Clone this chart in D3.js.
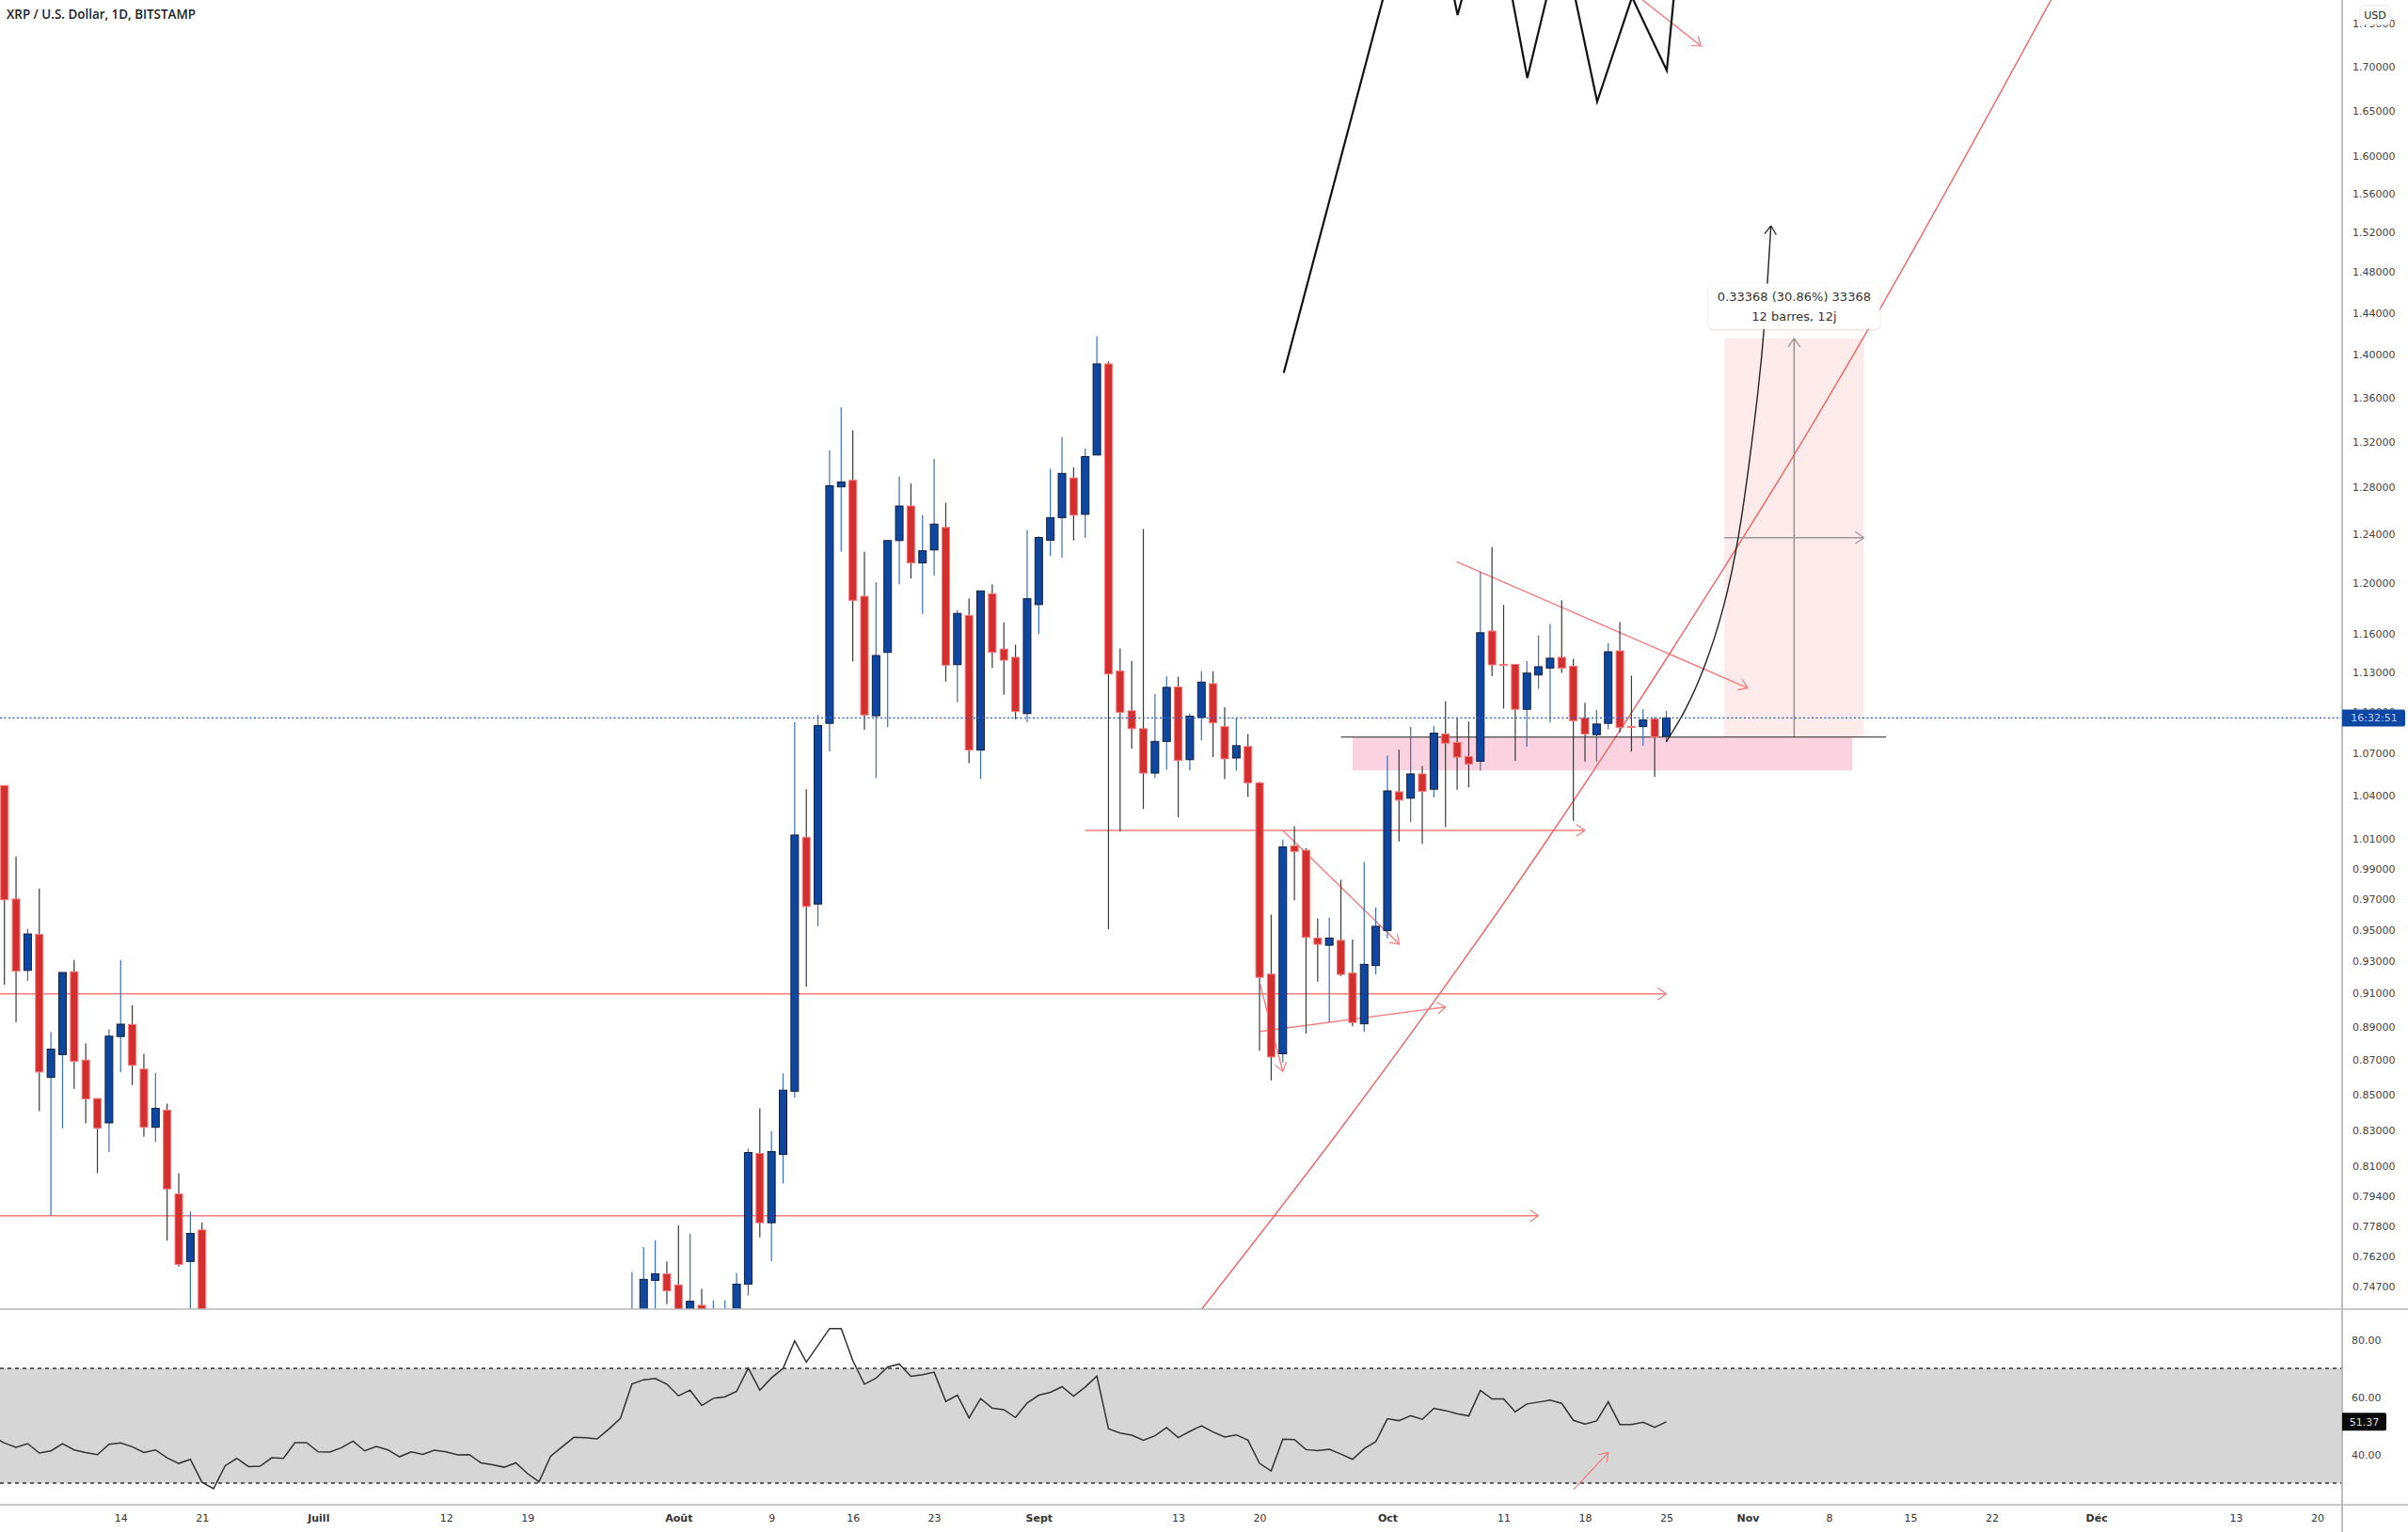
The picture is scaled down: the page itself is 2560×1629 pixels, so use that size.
<!DOCTYPE html>
<html><head><meta charset="utf-8">
<script src="https://cdn.jsdelivr.net/npm/d3@7/dist/d3.min.js"></script>
<style>html,body{margin:0;padding:0;background:#fff}svg{display:block}text{font-family:"DejaVu Sans",sans-serif}</style>
</head><body><svg id="c" width="2560" height="1629"></svg>
<script>
// ---------- DATA ----------
const title = "XRP / U.S. Dollar, 1D, BITSTAMP";
const opens = [1.047,.9699,.9243,.9470,.8600,.8733,.9235,.8701,.8478,.8340,.8840,.8912,.8648,.8315,.8412,.7950,.7596,.7759,
 .72,.72,.7500,.7533,.7477,.72,.7375,.72,.72,.72,.7481,.8170,.7797,.8165,.8520,1.0111,.9666,1.0918,1.2805,1.2862,1.1895,1.0974,1.1453,1.2350,1.2641,1.2165,1.2272,1.2460,1.1359,1.1741,1.0723,1.1915,1.1479,1.1415,1.0990,
 1.1828,1.2353,1.2542,1.2883,1.2570,1.3083,1.3912,1.1311,1.1011,1.0879,1.0558,1.0786,1.1189,1.0654,1.0962,1.1214,1.0894,1.0666,1.0749,1.0489,.9220,.8738,1.0053,1.0023,.9447,.9401,.9432,.9226,.8916,.9273,
 .9495,1.0426,1.0381,1.0552,1.0444,1.0840,1.0779,1.0677,1.0643,1.1619,1.1361,1.1361,1.1022,1.1280,1.1333,1.1415,1.1347,1.0958,1.0835,1.0918,1.1465,1.0895,1.0894,1.0951,1.0824];
const highs = [1.047,.9980,.9506,.9768,.8868,.9230,.9308,.8799,.8478,.8883,.9308,.9028,.8736,.8626,.8449,.8062,.7856,.7799,
 .7543,.7672,.7706,.7596,.7783,.7740,.7457,.7399,.7399,.7538,.8196,.8422,.8293,.8623,1.0926,1.0444,1.0981,1.3125,1.3511,1.3303,1.2257,1.2008,1.2350,1.2897,1.2834,1.2563,1.3049,1.2667,1.1785,1.1878,1.1938,1.1991,1.1688,1.1512,1.2439,
 1.2385,1.2962,1.3243,1.2977,1.3140,1.4174,1.3936,1.1483,1.1387,1.2446,1.1136,1.1271,1.1266,1.0992,1.1311,1.1308,1.1037,1.0959,1.0840,1.0495,.9597,1.0095,1.0186,1.0037,.9572,.9579,.9825,.9437,.9945,.9643,
 1.0683,1.0725,1.0892,1.0609,1.0897,1.1083,1.0959,1.0931,1.2094,1.2296,1.1826,1.1361,1.1385,1.1585,1.1675,1.1863,1.1403,1.1070,1.1016,1.1525,1.1689,1.1275,1.1024,1.0965,1.1011];
const lows = [.9154,.8925,.9178,.8406,.7836,.8308,.8534,.8337,.8062,.8178,.8631,.8555,.8262,.8233,.7703,.7570,.72,.72,
 .71,.71,.72,.7380,.72,.71,.72,.71,.71,.71,.7424,.7720,.7596,.8006,.8482,.9142,.9523,1.0711,1.2257,1.1383,1.0871,1.0523,1.0889,1.1991,1.2038,1.1755,1.2061,1.1230,1.1074,1.0628,1.0517,1.1334,1.1130,1.0949,1.0926,
 1.1595,1.2222,1.2208,1.2350,1.2371,1.3083,.9504,1.0149,1.0733,1.0306,1.0523,1.0582,1.0249,1.0577,1.0794,1.0672,1.0515,1.0575,1.0389,.8756,.8582,.8686,.9691,.8858,.9173,.8926,.9208,.8901,.8869,.9218,
 .9445,1.0082,1.0215,1.0067,1.0386,1.0180,1.0440,1.0458,1.0577,1.1271,1.1028,1.0646,1.0747,1.1175,1.0924,1.1296,1.0224,1.0641,1.0641,1.0876,1.0852,1.0712,1.0754,1.0531,1.0782];
const closes = [.9694,.9238,.9473,.8631,.8765,.9230,.8694,.8476,.8310,.8842,.8914,.8670,.8315,.8422,.7977,.7581,.7741,.73,
 .725,.7505,.7533,.7447,.73,.7395,.73,.725,.725,.7481,.8175,.7797,.8180,.8526,1.0126,.9650,1.0902,1.2815,1.2847,1.1862,1.0980,1.1429,1.2350,1.2641,1.2165,1.2265,1.2488,1.1355,1.1758,1.0723,1.1938,1.1453,1.1393,1.1005,1.1875,
 1.2375,1.2542,1.2922,1.2563,1.3069,1.3912,1.1287,1.0999,1.0879,1.0558,1.0786,1.1186,1.0649,1.0971,1.1226,1.0922,1.0660,1.0755,1.0489,.9200,.8719,1.0045,1.0015,.9451,.9407,.9447,.9218,.8924,.9281,.9522,
 1.0432,1.0367,1.0552,1.0429,1.0846,1.0773,1.0672,1.0623,1.1606,1.1357,1.1357,1.1022,1.1294,1.1343,1.1408,1.1333,1.0938,1.0840,1.0913,1.1458,1.0889,1.0889,1.0944,1.0819,1.0958];
const rsiValues = [46.18,43.98,42.45,43.76,40.47,41.24,43.76,41.57,40.69,39.92,43.54,43.98,42.67,40.69,41.57,38.83,36.86,38.28,30.28,28.08,36.09,38.61,35.76,35.87,38.83,38.61,44.09,44.09,
 40.91,40.80,42.34,44.64,41.24,42.78,41.57,39.16,40.91,40.03,41.46,40.91,39.81,39.92,37.07,36.42,35.54,37.07,33.35,30.49,39.38,42.67,45.96,45.85,45.41,48.81,52.53,64.60,66.02,66.46,64.49,
 60.43,62.40,57.03,59.55,60.10,61.96,70.08,62.40,66.68,69.97,79.62,72.16,77.97,83.89,83.89,72.71,64.49,66.57,70.52,71.50,67.23,67.78,68.65,58.46,60.65,52.75,59.44,56.15,55.60,52.86,57.91,
 60.65,61.64,63.61,60.32,63.50,67.34,48.92,47.49,46.72,44.97,46.50,49.35,45.85,48.04,50.01,47.82,46.07,46.83,44.97,36.86,34.22,45.30,45.19,41.68,41.35,41.79,40.14,38.28,42.01,44.42,
 52.43,51.77,53.52,52.21,56.04,55.28,54.18,53.41,62.29,59.33,59.33,54.84,57.58,58.24,58.90,57.80,51.88,50.56,51.66,58.35,50.45,50.45,51.22,49.46,51.37];
const priceTicks = [1.75,1.70,1.65,1.60,1.56,1.52,1.48,1.44,1.40,1.36,1.32,1.28,1.24,1.20,1.16,1.13,1.10,1.07,1.04,1.01,.99,.97,.95,.93,.91,.89,.87,.85,.83,.81,.794,.778,.762,.747];
const rsiTicks = [80,60,40];
const timeTickDates = ["06-14","06-21","07-01","07-12","07-19","08-01","08-09","08-16","08-23","09-01","09-13","09-20","10-01","10-11","10-18","10-25","11-01","11-08","11-15","11-22","12-01","12-13","12-20"];
const timeTickLabels = ["14","21","Juill","12","19","Août","9","16","23","Sept","13","20","Oct","11","18","25","Nov","8","15","22","Déc","13","20"];
const monthLabels = ["Juill","Août","Sept","Oct","Nov","Déc"];
// drawings: [days relative to the last bar, price]
const zigzag = [[-32.92,1.3828],[-20.93,1.9703],[-17.96,1.7601],[-15.04,1.9170],[-11.96,1.6868],[-8.99,1.8575],[-5.95,1.6603],[-2.95,1.7814],[.04,1.6954],[1.09,1.8469]];
const projection = [[0,1.0784],[1.6,1.1000],[3.25,1.1317],[5.0,1.1800],[6.27,1.2377],[7.2,1.3060],[7.88,1.3628],[8.5,1.4300],[9,1.5270]];
const trendUp = [[-39.98,.7356],[-28.01,.8308],[-10.63,1.0049],[4.17,1.2005],[10.95,1.3077],[17.42,1.4250],[33.1,1.778]];
const redArrows = [
 [[-143.5,.9098],[0,.9098]],
 [[-143.5,.7834],[-11,.7834]],
 [[-50,1.0158],[-7,1.0158]],
 [[-18.03,1.2175],[7,1.1181]],
 [[-33,1.0158],[-22.97,.9407]],
 [[-34.94,.8870],[-18.98,.9018]],
 [[-34.94,.9154],[-33,.8634]],
 [[-2.55,1.7836],[2.99,1.7236]]
];
const rsiArrow = [[-7.98,27.75],[-4.99,40.69]];
const supportLine = [[-28,1.0817],[18.9,1.0817]];
const zoneDays = [-27,16], zonePrices = [1.0817,1.0577];
const targetDays = [5,17], targetPrices = [1.0817,1.4154], targetMidPrice = 1.2374, targetMidDay = 11;
const measureLines = ["0.33368 (30.86%) 33368","12 barres, 12j"];
const lastPrice = 1.0958, countdown = "16:32:51", rsiLast = 51.37;

// ---------- SCALES ----------
const D = (m,d)=>new Date(Date.UTC(2021,m-1,d));
const barDays = [...d3.utcDay.range(D(6,4),D(6,22)),...d3.utcDay.range(D(7,28),D(10,26))];
const rsiDays = d3.utcDay.range(D(6,3),D(10,26));
const x = d3.scaleUtc().domain([D(6,4),D(10,25)]).range([4.7,1771.5]);
const xo = o => x(new Date(+D(10,25)+o*864e5));
const paneW = 2490, paneH = 1392, rsiBottom = 1600;
const y = d3.scaleLog().domain([.7356,1.778]).range([paneH,0]);
const r = d3.scaleLinear().domain([30,70]).range([1577,1455]);

const svg = d3.select("#c");
const defs = svg.append("defs");
defs.append("clipPath").attr("id","pc").append("rect").attr("width",paneW).attr("height",paneH);
const shadow = defs.append("filter").attr("id","sh").attr("x","-10%").attr("y","-20%").attr("width","120%").attr("height","140%");
shadow.append("feDropShadow").attr("dx",0).attr("dy",1).attr("stdDeviation",1.5).attr("flood-color","#c8a0a0").attr("flood-opacity",.45);
const main = svg.append("g").attr("clip-path","url(#pc)");

const RED="#f47c7c", BLK="#111", GREY="#8c8c8c";
function arrow(g,px,py,qx,qy,col,w,len=11){
 const a=Math.atan2(qy-py,qx-px);
 [-.6,.6].forEach(s=>g.append("line").attr("x1",qx).attr("y1",qy)
   .attr("x2",qx-len*Math.cos(a+s)).attr("y2",qy-len*Math.sin(a+s)).attr("stroke",col).attr("stroke-width",w));
}
// zones
main.append("rect").attr("x",xo(targetDays[0])).attr("width",xo(targetDays[1])-xo(targetDays[0]))
 .attr("y",y(targetPrices[1])).attr("height",y(targetPrices[0])-y(targetPrices[1])).attr("fill","#fdeaeb");
main.append("rect").attr("x",xo(zoneDays[0])).attr("width",xo(zoneDays[1])-xo(zoneDays[0]))
 .attr("y",y(zonePrices[0])).attr("height",y(zonePrices[1])-y(zonePrices[0])).attr("fill","#fad2e0");

// red drawings
const ln = d3.line().x(d=>xo(d[0])).y(d=>y(d[1]));
redArrows.forEach(a=>{
 main.append("path").attr("d",ln(a)).attr("fill","none").attr("stroke",RED).attr("stroke-width",1.4);
 arrow(main,xo(a[0][0]),y(a[0][1]),xo(a[1][0]),y(a[1][1]),RED,1.2);
});
main.append("path").attr("d",d3.line().x(d=>xo(d[0])).y(d=>y(d[1])).curve(d3.curveMonotoneX)(trendUp))
 .attr("fill","none").attr("stroke","#ee6a6a").attr("stroke-width",1.5);
// target arrows
main.append("line").attr("x1",xo(targetMidDay)).attr("x2",xo(targetMidDay)).attr("y1",y(targetPrices[0])).attr("y2",y(targetPrices[1])).attr("stroke",GREY).attr("stroke-width",1.4);
arrow(main,xo(targetMidDay),y(targetPrices[0]),xo(targetMidDay),y(targetPrices[1]),"#a09a9a",1.3);
main.append("line").attr("x1",xo(targetDays[0])).attr("x2",xo(targetDays[1])).attr("y1",y(targetMidPrice)).attr("y2",y(targetMidPrice)).attr("stroke","#999").attr("stroke-width",1.5);
arrow(main,xo(targetDays[0]),y(targetMidPrice),xo(targetDays[1]),y(targetMidPrice),"#a09a9a",1.3);
// black drawings
main.append("path").attr("d",ln(supportLine)).attr("stroke","#222").attr("stroke-width",1.1).attr("fill","none");
main.append("path").attr("d",ln(zigzag)).attr("stroke",BLK).attr("stroke-width",2.2).attr("fill","none").attr("stroke-linejoin","miter");

// candles
const bars = barDays.map((d,i)=>({d,o:opens[i],h:highs[i],l:lows[i],c:closes[i],up:closes[i]>=opens[i]}));
const g = main.append("g");
g.selectAll("line").data(bars).join("line")
 .attr("x1",d=>x(d.d)).attr("x2",d=>x(d.d)).attr("y1",d=>y(d.h)).attr("y2",d=>y(d.l))
 .attr("stroke",d=>d.up?"#3a6fbe":"#3a3a3a").attr("stroke-width",1.2);
g.selectAll("rect").data(bars).join("rect")
 .attr("x",d=>x(d.d)-4).attr("width",8)
 .attr("y",d=>y(Math.max(d.o,d.c))).attr("height",d=>Math.max(1,Math.abs(y(d.o)-y(d.c))))
 .attr("fill",d=>d.up?"#0d47a1":"#d32f2f").attr("stroke",d=>d.up?"#14203a":"#f77a7a").attr("stroke-width",1);

// projection curve above candles
const pc = d3.line().x(d=>xo(d[0])).y(d=>y(d[1])).curve(d3.curveBasis);
main.append("path").attr("d",pc(projection)).attr("stroke","#222").attr("stroke-width",1.4).attr("fill","none");
{const n=projection.length; arrow(main,xo(projection[n-2][0]),y(projection[n-2][1]),xo(projection[n-1][0]),y(projection[n-1][1]),"#222",1.3);}

// last price line
main.append("line").attr("x1",0).attr("x2",paneW).attr("y1",y(lastPrice)).attr("y2",y(lastPrice))
  .attr("stroke","#f4a6a6").attr("stroke-width",1).attr("stroke-dasharray","1.5 3");
main.append("line").attr("x1",0).attr("x2",paneW).attr("y1",y(lastPrice)).attr("y2",y(lastPrice))
  .attr("stroke","#2462c8").attr("stroke-width",1.2).attr("stroke-dasharray","2 2.5");

// measure tooltip
const tx=xo(targetMidDay), ty=y(targetPrices[1]);
main.append("rect").attr("x",tx-91).attr("y",ty-58).attr("width",182).attr("height",48).attr("rx",5)
 .attr("fill","#fff").attr("filter","url(#sh)");
main.selectAll("text.m").data(measureLines).join("text").attr("class","m")
 .attr("x",tx).attr("y",(d,i)=>ty-40+i*21).attr("text-anchor","middle").attr("font-size",13).attr("fill","#333").text(d=>d);

// title
svg.append("text").attr("x",7).attr("y",20).attr("font-size",13.4).attr("font-weight",600).attr("fill","#222")
 .attr("style",'font-family:"Open Sans",sans-serif').text(title);

// RSI pane
svg.append("rect").attr("x",0).attr("width",paneW).attr("y",r(70)).attr("height",r(30)-r(70)).attr("fill","#d6d6d6");
[70,30].forEach(v=>svg.append("line").attr("x1",0).attr("x2",paneW).attr("y1",r(v)).attr("y2",r(v))
 .attr("stroke","#333").attr("stroke-width",1.5).attr("stroke-dasharray","4 4"));
svg.append("path").attr("d",d3.line().x((d,i)=>x(rsiDays[i])).y(d=>r(d))(rsiValues)).attr("clip-path","url(#rc)")
 .attr("fill","none").attr("stroke","#333").attr("stroke-width",1.5);
defs.append("clipPath").attr("id","rc").append("rect").attr("y",paneH).attr("width",paneW).attr("height",rsiBottom-paneH);
{const a=rsiArrow, px=xo(a[0][0]),py=r(a[0][1]),qx=xo(a[1][0]),qy=r(a[1][1]);
 svg.append("line").attr("x1",px).attr("y1",py).attr("x2",qx).attr("y2",qy).attr("stroke",RED).attr("stroke-width",1.2);
 arrow(svg,px,py,qx,qy,RED,1.1);}

// frame lines
[paneH,rsiBottom].forEach(v=>svg.append("line").attr("x1",0).attr("x2",2560).attr("y1",v).attr("y2",v).attr("stroke","#b8b6b6").attr("stroke-width",1.5));
svg.append("line").attr("x1",paneW).attr("x2",paneW).attr("y1",0).attr("y2",1629).attr("stroke","#bdb5b5").attr("stroke-width",1.8);

// axes
const yAxis = d3.axisRight(y).tickValues(priceTicks).tickFormat(d3.format(".5f")).tickSize(0).tickPadding(11);
const ya = svg.append("g").attr("transform",`translate(${paneW},0)`).call(yAxis);
const rAxis = d3.axisRight(r).tickValues(rsiTicks).tickFormat(d3.format(".2f")).tickSize(0).tickPadding(10);
const ra = svg.append("g").attr("transform",`translate(${paneW},0)`).call(rAxis);
const xAxis = d3.axisBottom(x).tickValues(timeTickDates.map(s=>new Date("2021-"+s+"T00:00:00Z")))
 .tickFormat((d,i)=>timeTickLabels[i]).tickSize(0).tickPadding(10);
const xa = svg.append("g").attr("transform",`translate(0,${rsiBottom})`).call(xAxis);
[ya,ra,xa].forEach(a=>{a.select(".domain").remove();a.selectAll("text").attr("font-size",11).attr("font-family",'"DejaVu Sans"').attr("fill","#444");});
xa.selectAll("text").attr("fill","#333").filter((d,i)=>monthLabels.includes(timeTickLabels[i])).attr("font-weight",700);

// labels on the price axis
svg.append("rect").attr("x",2509).attr("y",6).attr("width",32).attr("height",20).attr("rx",3).attr("fill","#fff").attr("stroke","#efe6e6");
svg.append("text").attr("x",2525).attr("y",20).attr("text-anchor","middle").attr("font-size",11).attr("fill","#222").text("USD");
svg.append("path").attr("d",`M${paneW},${y(lastPrice)-9}H2555a2,2 0 0 1 2,2V${y(lastPrice)+7}a2,2 0 0 1 -2,2H${paneW}Z`).attr("fill","#0d47a1");
svg.append("text").attr("x",2524).attr("y",y(lastPrice)+4).attr("text-anchor","middle").attr("font-size",11).attr("fill","#bcd0ee").text(countdown);
svg.append("path").attr("d",`M${paneW},${r(rsiLast)-9.5}H2535a2,2 0 0 1 2,2V${r(rsiLast)+7.5}a2,2 0 0 1 -2,2H${paneW}Z`).attr("fill","#0a0a0a");
svg.append("text").attr("x",2513.5).attr("y",r(rsiLast)+4).attr("text-anchor","middle").attr("font-size",11).attr("fill","#ddd").text(d3.format(".2f")(rsiLast));
</script></body></html>
